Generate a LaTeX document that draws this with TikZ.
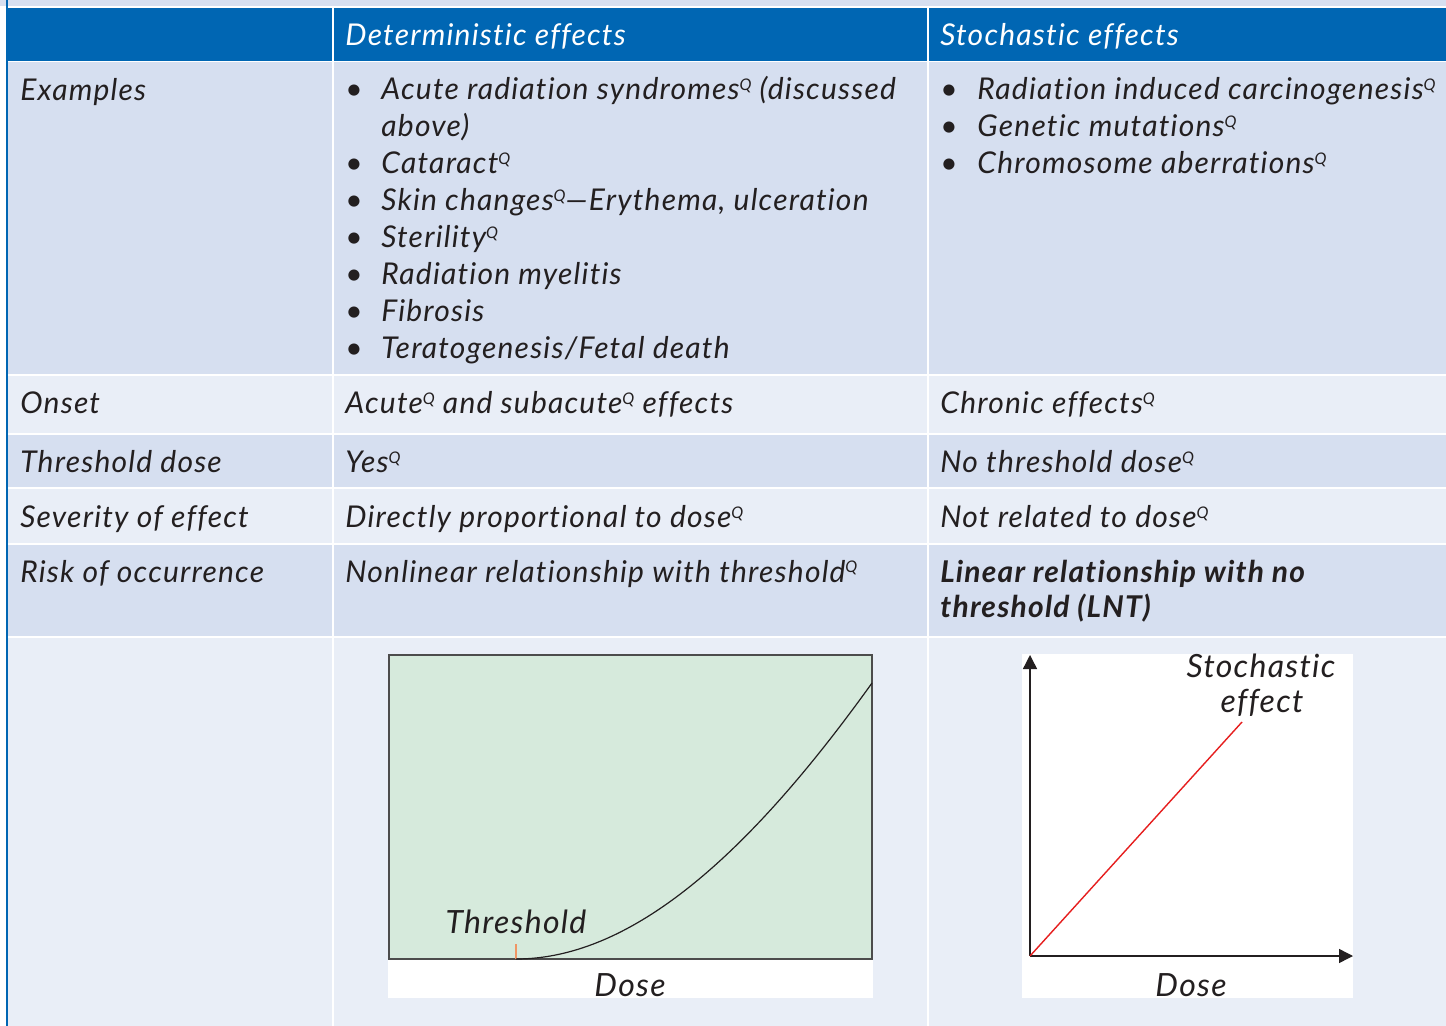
\documentclass[tikz,border=0pt]{standalone}
\usepackage{fontspec}
\setmainfont{Lato}[LetterSpace=4, Ligatures=NoCommon]
\usetikzlibrary{arrows.meta}
\definecolor{hdblue}{RGB}{0,102,179}
\definecolor{rowdk}{RGB}{214,223,240}
\definecolor{rowlt}{RGB}{233,238,247}
\definecolor{plotgreen}{RGB}{214,234,220}
\definecolor{ink}{RGB}{35,31,32}
\definecolor{tickorange}{RGB}{240,150,100}
\definecolor{lntred}{RGB}{230,30,30}
\newcommand{\qm}{\raisebox{0.6ex}{\fontsize{8}{8}\selectfont Q}}

\begin{document}
\begin{tikzpicture}[x=0.5pt, y=-0.5pt,
  txt/.style={anchor=base west, inner sep=0pt, text=ink, font=\fontsize{15}{18}\selectfont\itshape},
  hdr/.style={txt, text=white},
  lbl/.style={txt, anchor=base, font=\fontsize{16}{18}\selectfont\itshape}]
\useasboundingbox (0,0) rectangle (1446,1026);
\fill[white] (0,0) rectangle (1446,1026);
\fill[rowdk] (0,0) rectangle (1446,6);
\fill[hdblue] (8,8) rectangle (1446,61);
\foreach \ya/\yb/\c in {62/374/rowdk, 376/433/rowlt, 435/487/rowdk, 489/543/rowlt, 545/636/rowdk, 638/1026/rowlt}
  \fill[\c] (8,\ya) rectangle (1446,\yb);
\foreach \x in {333, 928}{\draw[white, line width=1.2] (\x,8) -- (\x,1026);}
\draw[hdblue, line width=1.2] (7,0) -- (7,1026);

% headers and row labels
\node[hdr] (hdet) at (345,46) {Deterministic effects};
\node[hdr] (hsto) at (940,46) {Stochastic effects};
\foreach \y/\t [count=\i] in {101/Examples, 414/Onset, 473/Threshold dose, 528/Severity of effect, 582/Risk of occurrence}
  \node[txt] (lab\i) at (20,\y) {\t};

% examples
\foreach \k in {0,2,3,4,5,6,7}{\node[txt] (dbul\k) at (345,100+36.9*\k) {\textbullet};}
\foreach \k/\t in {0/{Acute radiation syndromes\qm{} (discussed}, 1/{above)}, 2/{Cataract\qm}, 3/{Skin changes\qm---Erythema, ulceration}, 4/{Sterility\qm}, 5/{Radiation myelitis}, 6/{Fibrosis}, 7/{Teratogenesis/Fetal death}}
  \node[txt] (dex\k) at (381,100+36.9*\k) {\t};
\foreach \k/\t in {0/{Radiation induced carcinogenesis\qm}, 1/{Genetic mutations\qm}, 2/{Chromosome aberrations\qm}}{
  \node[txt] (sbul\k) at (940,100+37*\k) {\textbullet};
  \node[txt] (sex\k) at (977,100+37*\k) {\t};}

% other rows
\node[txt] (donset) at (345,414) {Acute\qm{} and subacute\qm{} effects};
\node[txt] (sonset) at (940,414) {Chronic effects\qm};
\node[txt] (dthr) at (345,473) {Yes\qm};
\node[txt] (sthr) at (940,473) {No threshold dose\qm};
\node[txt] (dsev) at (345,528) {Directly proportional to dose\qm};
\node[txt] (ssev) at (940,528) {Not related to dose\qm};
\node[txt] (drisk) at (345,582) {Nonlinear relationship with threshold\qm};
\node[txt, font=\fontsize{15}{18}\selectfont\itshape\bfseries] (srisk1) at (940,582) {Linear relationship with no};
\node[txt, font=\fontsize{15}{18}\selectfont\itshape\bfseries] (srisk2) at (940,617) {threshold (LNT)};

% deterministic graph
\fill[white] (388,655) rectangle (873,998);
\draw[draw=black!70, fill=plotgreen, line width=0.8] (389,655) rectangle (872,959);
\coordinate (thr) at (516,959);
\coordinate (cend) at (872,683);
\draw[tickorange, line width=0.8] (thr) -- (516,944);
\draw[ink, line width=0.6] (thr) .. controls (635,959) and (753,849) .. (cend);
\node[lbl] (thrlbl) at (516,933) {Threshold};
\node[lbl] (dose1) at (630,996) {Dose};

% stochastic graph
\fill[white] (1022,654) rectangle (1353,998);
\coordinate (o) at (1030,956);
\coordinate (yend) at (1030,655);
\coordinate (xend) at (1353,956);
\coordinate (lnt) at (1242,722);
\draw[ink, line width=0.7, -{Triangle[length=7pt, width=7pt]}] (o) -- (yend);
\draw[ink, line width=0.7, -{Triangle[length=7pt, width=7pt]}] (o) -- (xend);
\draw[lntred, line width=0.7] (o) -- (lnt);
\node[lbl] (sto1) at (1261,677) {Stochastic};
\node[lbl] (sto2) at (1262,712) {effect};
\node[lbl] (dose2) at (1191,996) {Dose};
\end{tikzpicture}
\end{document}
